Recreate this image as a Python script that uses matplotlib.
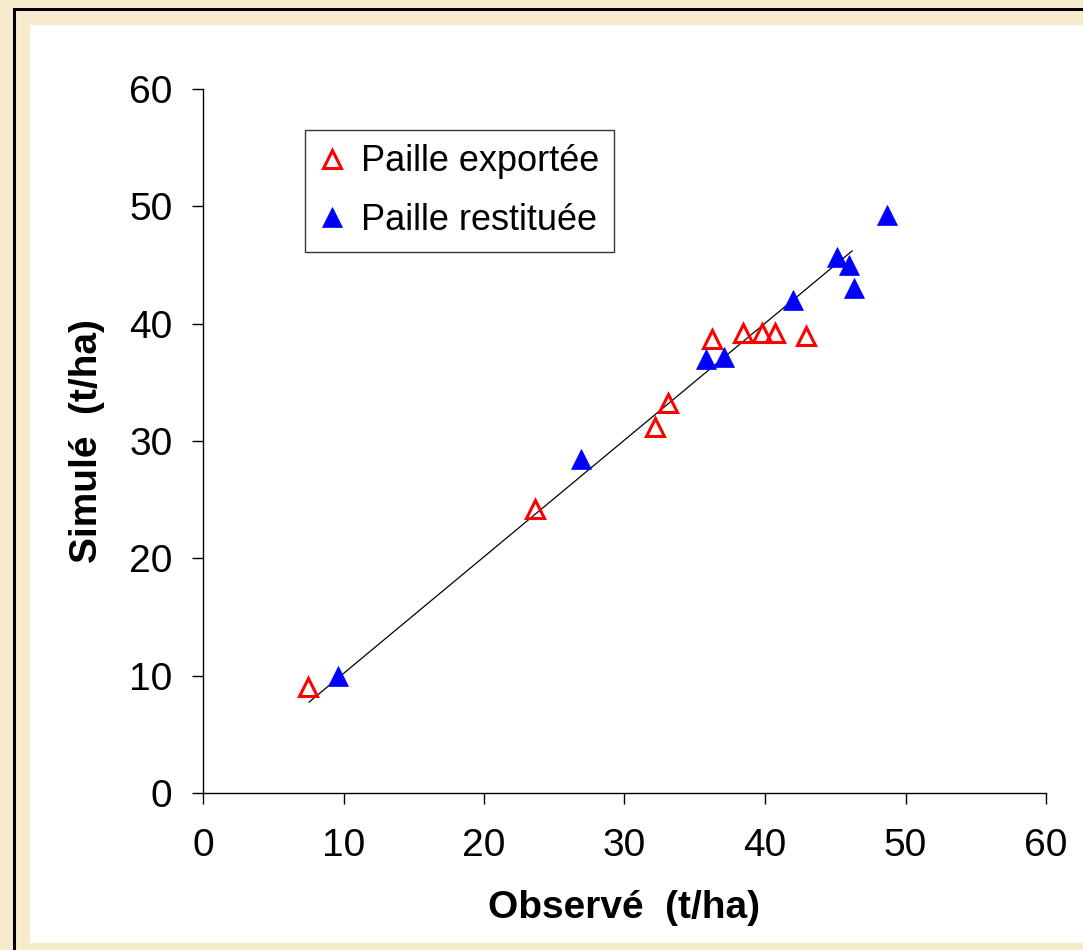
import matplotlib.pyplot as plt
from matplotlib.patches import Rectangle

plt.rcParams["font.family"] = ["Liberation Sans", "DejaVu Sans"]

# Paille exportée (hollow red triangles)
exp_obs = [7.5, 23.6, 32.2, 33.1, 36.2, 38.4, 39.8, 40.7, 42.9]
exp_sim = [9.0, 24.2, 31.2, 33.2, 38.7, 39.2, 39.2, 39.2, 38.95]

# Paille restituée (filled blue triangles)
res_obs = [9.6, 26.9, 35.8, 37.1, 42.0, 45.1, 46.0, 46.3, 48.7]
res_sim = [10.0, 28.5, 37.0, 37.2, 42.0, 45.7, 45.0, 43.0, 49.3]

# regression line end points
fit_x = [7.55, 46.2]
fit_y = [7.75, 46.2]

ticks = [0, 10, 20, 30, 40, 50, 60]

W, H = 1083, 950
fig = plt.figure(figsize=(W / 100, H / 100), dpi=100)
fig.patch.set_facecolor("#f8ebcd")

# white panel and black frame
fig.patches.append(Rectangle((30 / W, 7 / H), 1.0, (H - 25 - 7) / H,
                             transform=fig.transFigure, facecolor="white",
                             edgecolor="none", zorder=0))
fig.patches.append(Rectangle((14 / W, -0.1), 1.2, 1 - 9 / H + 0.1,
                             transform=fig.transFigure, facecolor="none",
                             edgecolor="black", linewidth=2.2, zorder=1))

ax = fig.add_axes([203 / W, 1 - 793 / H, (1046 - 203) / W, (793 - 89) / H])
ax.set_zorder(5)
ax.set_facecolor("none")

ax.plot(fit_x, fit_y, color="black", linewidth=0.9, zorder=2)
ax.plot(exp_obs, exp_sim, linestyle="none", marker="^", markersize=13,
        markerfacecolor="none", markeredgecolor="#ff0000",
        markeredgewidth=2.2, label="Paille exportée", zorder=3)
ax.plot(res_obs, res_sim, linestyle="none", marker="^", markersize=15,
        markerfacecolor="#0000ff", markeredgecolor="#0000ff",
        markeredgewidth=0.5, label="Paille restituée", zorder=4)

ax.set_xlim(0, 60)
ax.set_ylim(0, 60)
ax.set_xticks(ticks)
ax.set_yticks(ticks)

for side in ["top", "right"]:
    ax.spines[side].set_visible(False)
for side in ["left", "bottom"]:
    ax.spines[side].set_linewidth(1.0)

ax.tick_params(axis="both", direction="out", length=8, width=1.0,
               labelsize=28, colors="black")
ax.tick_params(axis="x", pad=17)
ax.tick_params(axis="y", pad=14)

ax.set_xlabel("Observé  (t/ha)", fontsize=28, fontweight="bold", labelpad=19)
ax.set_ylabel("Simulé  (t/ha)", fontsize=28, fontweight="bold", labelpad=17)

leg = ax.legend(loc="upper left", bbox_to_anchor=(305 / W, 1 - 130 / H),
                bbox_transform=fig.transFigure, borderaxespad=0,
                fontsize=26, frameon=True, fancybox=False, shadow=False,
                handlelength=0.7, handletextpad=0.45, borderpad=0.4,
                labelspacing=0.65, markerscale=1.0)
leg.get_frame().set_edgecolor("black")
leg.get_frame().set_linewidth(1.0)

fig.savefig("out.png", dpi=100, facecolor=fig.get_facecolor())
